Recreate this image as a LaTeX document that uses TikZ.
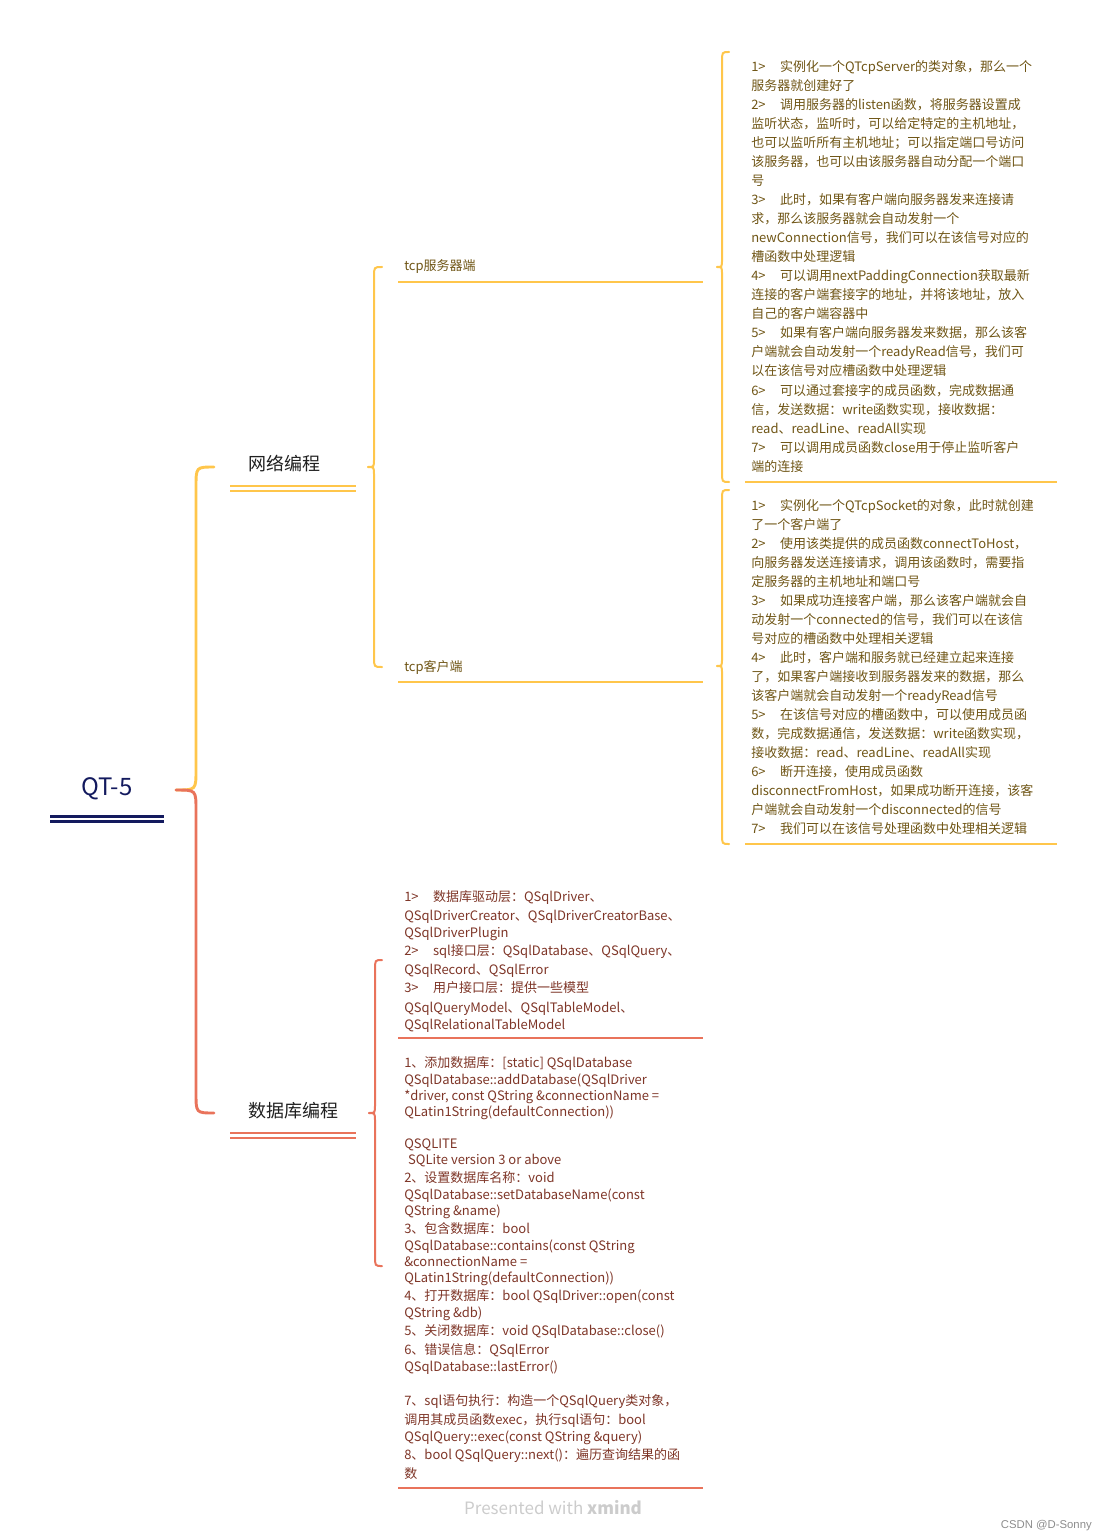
\documentclass[tikz,border=0pt]{standalone}
\usepackage{fontspec}
\setmainfont{Noto Sans CJK SC}
\newfontfamily\wmfont{Liberation Sans}
\definecolor{ylw}{HTML}{FFC64B}
\definecolor{ytext}{HTML}{6F5515}
\definecolor{rln}{HTML}{E9735B}
\definecolor{rtext}{HTML}{7E3527}
\definecolor{navy}{HTML}{131A5E}
\definecolor{topic}{HTML}{1F1F1F}
\tikzset{
  ytxt/.style={anchor=base west, inner sep=0pt, text=ytext, font=\fontsize{9.75}{12}\selectfont},
  rtxt/.style={anchor=base west, inner sep=0pt, text=rtext, font=\fontsize{9.75}{12}\selectfont},
  ybrace/.style={draw=ylw, line width=1.5pt, line cap=round},
  rbrace/.style={draw=rln, line width=1.5pt, line cap=round},
  ymain/.style={draw=ylw, line width=2.2pt, line cap=round},
  rmain/.style={draw=rln, line width=2.2pt, line cap=round},
  yline/.style={draw=ylw, line width=1.5pt},
  rline/.style={draw=rln, line width=1.5pt},
  topictxt/.style={anchor=base west, inner sep=0pt, text=topic, font=\fontsize{13.5}{16}\selectfont},
}
\newcommand{\gap}{\hspace{1.1em}}
\begin{document}
\begin{tikzpicture}[x=0.75pt,y=-0.75pt]
\useasboundingbox (0,0) rectangle (1107,1540);

% ---------- root ----------
\node[anchor=base, inner sep=0pt, text=navy, font=\fontsize{18}{20}\selectfont] (root) at (107,795) {QT-5};
\draw[navy, line width=2.1pt] (50,816.5) -- (164,816.5);
\draw[navy, line width=2.1pt] (50,821.5) -- (164,821.5);
\coordinate (rootC) at (176,790);

% ---------- level 1 ----------
\node[topictxt] (net) at (248,470.5) {网络编程};
\draw[yline] (230,486) -- (356,486);
\draw[yline] (230,491) -- (356,491);
\coordinate (netL) at (214,467);
\coordinate (netC) at (368,467);

\node[topictxt] (db) at (248,1117.5) {数据库编程};
\draw[rline] (230,1133) -- (356,1133);
\draw[rline] (230,1138) -- (356,1138);
\coordinate (dbL) at (214,1113);
\coordinate (dbC) at (369,1113);

\draw[ymain] (rootC) .. controls (196,790) .. (196,770) -- (196,487) .. controls (196,467) .. (netL);
\draw[rmain] (rootC) .. controls (196,790) .. (196,810) -- (196,1093) .. controls (196,1113) .. (dbL);

% ---------- level 2 (network) ----------
\node[ytxt] (srv) at (404,271) {tcp服务器端};
\draw[yline] (398,282.5) -- (703,282.5);
\coordinate (srvL) at (382,267);
\coordinate (srvC) at (717,267);

\node[ytxt] (cli) at (404,671) {tcp客户端};
\draw[yline] (398,682) -- (703,682);
\coordinate (cliL) at (382,667);
\coordinate (cliC) at (717,666);

\draw[ybrace] (netC) .. controls (374,467) .. (374,459) -- (374,277) .. controls (374,267) .. (srvL);
\draw[ybrace] (netC) .. controls (374,467) .. (374,475) -- (374,657) .. controls (374,667) .. (cliL);

% ---------- server details ----------
\foreach \t [count=\i] in {
 {1>\gap 实例化一个QTcpServer的类对象，那么一个},
 {服务器就创建好了},
 {2>\gap 调用服务器的listen函数，将服务器设置成},
 {监听状态，监听时，可以给定特定的主机地址，},
 {也可以监听所有主机地址；可以指定端口号访问},
 {该服务器，也可以由该服务器自动分配一个端口},
 {号},
 {3>\gap 此时，如果有客户端向服务器发来连接请},
 {求，那么该服务器就会自动发射一个},
 {newConnection信号，我们可以在该信号对应的},
 {槽函数中处理逻辑},
 {4>\gap 可以调用nextPaddingConnection获取最新},
 {连接的客户端套接字的地址，并将该地址，放入},
 {自己的客户端容器中},
 {5>\gap 如果有客户端向服务器发来数据，那么该客},
 {户端就会自动发射一个readyRead信号，我们可},
 {以在该信号对应槽函数中处理逻辑},
 {6>\gap 可以通过套接字的成员函数，完成数据通},
 {信，发送数据：write函数实现，接收数据：},
 {read、readLine、readAll实现},
 {7>\gap 可以调用成员函数close用于停止监听客户},
 {端的连接}}
 \node[ytxt] (s\i) at (751,{72+19*(\i-1)}) {\t};
\draw[yline] (745,482) -- (1057,482);
\coordinate (b1T) at (729,52);
\coordinate (b1B) at (729,482);
\draw[ybrace] (srvC) .. controls (722,267) .. (722,259) -- (722,62) .. controls (722,52) .. (b1T);
\draw[ybrace] (srvC) .. controls (722,267) .. (722,275) -- (722,472) .. controls (722,482) .. (b1B);

% ---------- client details ----------
\foreach \t [count=\i] in {
 {1>\gap 实例化一个QTcpSocket的对象，此时就创建},
 {了一个客户端了},
 {2>\gap 使用该类提供的成员函数connectToHost，},
 {向服务器发送连接请求，调用该函数时，需要指},
 {定服务器的主机地址和端口号},
 {3>\gap 如果成功连接客户端，那么该客户端就会自},
 {动发射一个connected的信号，我们可以在该信},
 {号对应的槽函数中处理相关逻辑},
 {4>\gap 此时，客户端和服务就已经建立起来连接},
 {了，如果客户端接收到服务器发来的数据，那么},
 {该客户端就会自动发射一个readyRead信号},
 {5>\gap 在该信号对应的槽函数中，可以使用成员函},
 {数，完成数据通信，发送数据：write函数实现，},
 {接收数据：read、readLine、readAll实现},
 {6>\gap 断开连接，使用成员函数},
 {disconnectFromHost，如果成功断开连接，该客},
 {户端就会自动发射一个disconnected的信号},
 {7>\gap 我们可以在该信号处理函数中处理相关逻辑}}
 \node[ytxt] (c\i) at (751,{510+19*(\i-1)}) {\t};
\draw[yline] (745,843.5) -- (1057,843.5);
\coordinate (b2T) at (729,490);
\coordinate (b2B) at (729,844);
\draw[ybrace] (cliC) .. controls (722,666) .. (722,658) -- (722,500) .. controls (722,490) .. (b2T);
\draw[ybrace] (cliC) .. controls (722,666) .. (722,674) -- (722,834) .. controls (722,844) .. (b2B);

% ---------- database details ----------
\foreach \yy/\t [count=\i] in {
 901/{1>\gap 数据库驱动层：QSqlDriver、},
 920/{QSqlDriverCreator、QSqlDriverCreatorBase、},
 937/{QSqlDriverPlugin},
 955/{2>\gap sql接口层：QSqlDatabase、QSqlQuery、},
 974/{QSqlRecord、QSqlError},
 992/{3>\gap 用户接口层：提供一些模型},
 1012/{QSqlQueryModel、QSqlTableModel、},
 1029/{QSqlRelationalTableModel}}
 \node[rtxt] (d\i) at (404,\yy) {\t};
\draw[rline] (398,1038) -- (703,1038);

\foreach \yy/\t [count=\i] in {
 1067/{1、添加数据库：[static] QSqlDatabase},
 1084/{QSqlDatabase::addDatabase(QSqlDriver},
 1100/{*driver, const QString \&connectionName =},
 1116/{QLatin1String(defaultConnection))},
 1148/{QSQLITE},
 1164/{\hspace{0.3em}SQLite version 3 or above},
 1182/{2、设置数据库名称：void},
 1199/{QSqlDatabase::setDatabaseName(const},
 1215/{QString \&name)},
 1233/{3、包含数据库：bool},
 1250/{QSqlDatabase::contains(const QString},
 1266/{\&connectionName =},
 1282/{QLatin1String(defaultConnection))},
 1300/{4、打开数据库：bool QSqlDriver::open(const},
 1317/{QString \&db)},
 1335/{5、关闭数据库：void QSqlDatabase::close()},
 1354/{6、错误信息：QSqlError},
 1371/{QSqlDatabase::lastError()},
 1405/{7、sql语句执行：构造一个QSqlQuery类对象，},
 1424/{调用其成员函数exec，执行sql语句：bool},
 1441/{QSqlQuery::exec(const QString \&query)},
 1459/{8、bool QSqlQuery::next()：遍历查询结果的函},
 1478/{数}}
 \node[rtxt] (e\i) at (404,\yy) {\t};
\draw[rline] (398,1488) -- (703,1488);

\coordinate (rT) at (382,960);
\coordinate (rB) at (382,1266);
\draw[rbrace] (dbC) .. controls (375,1113) .. (375,1105) -- (375,970) .. controls (375,960) .. (rT);
\draw[rbrace] (dbC) .. controls (375,1113) .. (375,1121) -- (375,1256) .. controls (375,1266) .. (rB);

% ---------- footer ----------
\node[anchor=base, inner sep=0pt, text=black!20, font=\fontsize{12.75}{14}\selectfont] (pres) at (553,1514) {Presented with \textbf{xmind}};
\node[anchor=base east, inner sep=0pt, text=black!45, font=\wmfont\fontsize{8.5}{10}\selectfont] (csdn) at (1092,1528) {CSDN @D-Sonny};
\end{tikzpicture}
\end{document}
